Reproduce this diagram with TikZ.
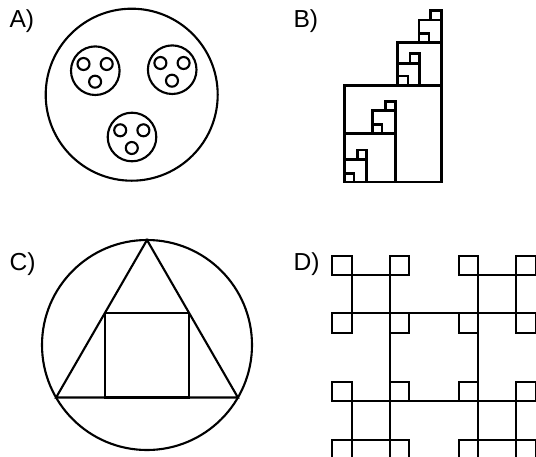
\documentclass[tikz,border=0pt]{standalone}
\usepackage{fontspec}
\setmainfont{Liberation Sans}
\begin{document}
\begin{tikzpicture}[x=0.02cm,y=-0.02cm,
      line width=1.2pt,
      every node/.style={font=\fontsize{14}{16}\selectfont,
        inner sep=0pt,anchor=base west}]
  \clip (0,0) rectangle (536,456);
  % labels
  \node (labA) at (8.5,28) {A)};
  \node (labB) at (292.5,28) {B)};
  \node (labC) at (8.5,270) {C)};
  \node (labD) at (292.5,270) {D)};
  % A: circles in circles
  \draw (131.7,94.7) circle (86);
  \foreach \cx/\cy in {95.3/70.7, 172.2/69.7, 132/137} {
    \draw (\cx,\cy) circle (24.3);
    \foreach \dx/\dy in {-11.8/-6.7, 11.4/-6.7, -0.2/11}
      \draw (\cx+\dx,\cy+\dy) circle (6);
  }
  % B: stacked squares
  \begin{scope}[line width=1.45pt]
    \foreach \xa/\ya/\xb/\yb in {
        344.3/85.7/441.3/182, 344.3/133.7/395.3/182,
        344.3/159.5/366.7/182, 344.3/173.3/354/182,
        357.3/150/366.7/159.5, 372.3/110.7/395.3/133.7,
        372.3/124.3/382/133.7, 385.5/101.5/395.3/110.7,
        397.3/42.3/441.3/85.7, 397.3/63.3/419.5/85.7,
        397.3/76/408/85.7, 410/53.5/419.5/63.3,
        419/20/441.3/42.3, 419/33.3/429/42.3,
        430.7/10.5/441.3/20}
      \draw (\xa,\ya) rectangle (\xb,\yb);
  \end{scope}
  % C: circle, triangle, square
  \draw (147,345) circle (105);
  \coordinate (apex) at (147,240);
  \coordinate (left) at (56.1,397.5);
  \coordinate (right) at (237.9,397.5);
  \draw (apex) -- (left) -- (right) -- cycle;
  \draw (104.8,313.1) rectangle (189.2,397.5);
  % D: squares on corners
  \coordinate (mid) at (434,357.4);
  \draw ([shift={(-44,-44)}]mid) rectangle ([shift={(44,44)}]mid);
  \foreach \i in {-1,1} \foreach \j in {-1,1} {
    \coordinate (grp) at ({434+63.2*\i},{357.4+63.2*\j});
    \draw ([shift={(-19.2,-19.2)}]grp) rectangle ([shift={(19.2,19.2)}]grp);
    \foreach \k in {-1,1} \foreach \l in {-1,1}
      \draw ([shift={({28.85*\k-9.65},{28.85*\l-9.65})}]grp)
        rectangle +(19.3,19.3);
  }
\end{tikzpicture}
\end{document}
